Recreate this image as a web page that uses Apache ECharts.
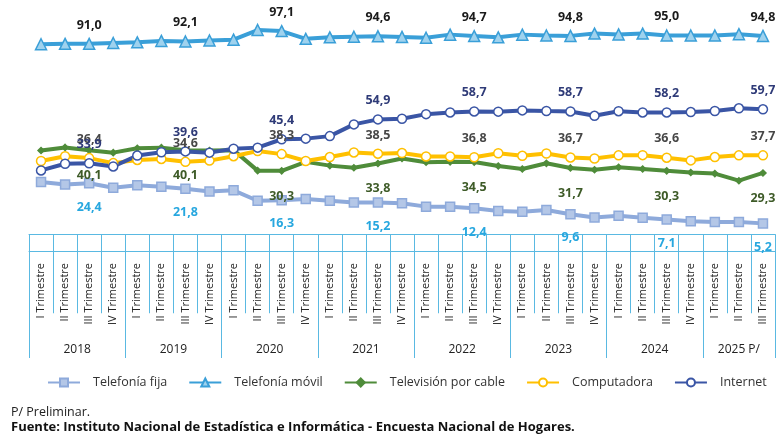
<!DOCTYPE html>
<html>
<head>
<meta charset="utf-8">
<script src="https://cdn.jsdelivr.net/npm/echarts@6/dist/echarts.min.js"></script>
<style>
  html, body { margin: 0; padding: 0; background: #fff; }
  #chart { width: 779px; height: 434px; }
</style>
</head>
<body>
<div id="chart"></div>
<script>
var years = ['2018', '2019', '2020', '2021', '2022', '2023', '2024', '2025 P/'];
var quartersPerYear = [4, 4, 4, 4, 4, 4, 4, 3];
var quarterNames = ['I Trimestre', 'II Trimestre', 'III Trimestre', 'IV Trimestre'];

var telefoniaFija = [25.0, 23.8, 24.4, 22.2, 23.4, 22.7, 21.8, 20.4, 21.0, 16.0, 16.3, 16.8, 16.0, 15.2, 15.2, 14.8,
  13.2, 13.2, 12.4, 11.1, 10.8, 11.6, 9.6, 8.0, 8.8, 7.9, 7.1, 6.2, 5.8, 5.9, 5.2];
var telefoniaMovil = [90.8, 91.0, 91.0, 91.4, 91.7, 92.4, 92.1, 92.6, 93.0, 97.6, 97.1, 93.4, 94.1, 94.4, 94.6, 94.3,
  93.9, 95.4, 94.7, 94.1, 95.4, 95.0, 94.8, 95.9, 95.5, 95.9, 95.0, 95.0, 95.0, 95.6, 94.8];
var tvCable = [40.0, 41.5, 40.1, 39.0, 41.1, 41.4, 40.1, 40.0, 40.2, 30.4, 30.3, 34.6, 32.8, 31.8, 33.8, 36.2,
  34.4, 34.6, 34.5, 32.6, 31.2, 33.9, 31.7, 30.8, 32.0, 31.2, 30.3, 29.5, 29.0, 25.6, 29.3];
var computadora = [35.0, 37.3, 36.4, 34.0, 35.5, 36.0, 34.6, 35.2, 37.3, 39.8, 38.3, 35.0, 36.9, 39.1, 38.5, 38.8,
  37.2, 37.2, 36.8, 38.7, 37.5, 38.6, 36.7, 36.2, 37.7, 37.8, 36.6, 35.3, 36.9, 37.7, 37.7];
var internet = [30.5, 33.7, 33.9, 32.4, 37.6, 39.2, 39.6, 39.0, 40.9, 41.4, 45.4, 45.7, 46.9, 52.5, 54.9, 55.2,
  57.4, 58.2, 58.7, 58.6, 59.2, 58.9, 58.7, 56.6, 58.8, 58.2, 58.2, 58.4, 58.9, 60.2, 59.7];

// quarter categories and the half-step year axis
var categories = [];
var yearSlots = [];
var yearEdges = [0];
quartersPerYear.forEach(function (n, y) {
  for (var q = 0; q < n; q++) categories.push(quarterNames[q]);
  yearEdges.push(yearEdges[yearEdges.length - 1] + n * 2);
});
for (var i = 0; i <= categories.length * 2; i++) yearSlots.push('');
years.forEach(function (y, k) {
  yearSlots[(yearEdges[k] + yearEdges[k + 1]) / 2] = y;
});

var font = 'Open Sans';
function lbl(i) { return i % 4 === 2; }
function fmt(p) { return lbl(p.dataIndex) ? p.value.toFixed(1).replace('.', ',') : ''; }

function mkSeries(name, data, color, symbol, fill, size, labelColor, pos, dist) {
  return {
    name: name,
    type: 'line',
    data: data,
    symbol: symbol,
    symbolSize: size,
    showAllSymbol: true,
    lineStyle: { color: color, width: 4 },
    itemStyle: { color: fill, borderColor: color, borderWidth: 1.5 },
    label: {
      show: true, position: pos, distance: dist, formatter: fmt,
      color: labelColor, fontFamily: font, fontWeight: 'bold', fontSize: 12.5
    },
    labelLayout: { hideOverlap: false },
    emphasis: { disabled: true }
  };
}

var chart = echarts.init(document.getElementById('chart'));
var option = {
  animation: false,
  textStyle: { fontFamily: font },
  grid: { left: 29, right: 4, top: 25, bottom: 183 },
  legend: {
    top: 371, left: 42,
    itemWidth: 32, itemHeight: 10, itemGap: 21,
    textStyle: { fontFamily: font, fontSize: 12.5, color: '#333', padding: [0, 0, 0, 8] },
    data: ['Telefonía fija', 'Telefonía móvil', 'Televisión por cable', 'Computadora', 'Internet']
  },
  title: [
    { text: 'P/ Preliminar.', left: 6, top: 401, textStyle: { fontFamily: font, fontSize: 12.5, fontWeight: 'normal', color: '#222' } },
    { text: 'Fuente: Instituto Nacional de Estadística e Informática - Encuesta Nacional de Hogares.', left: 6, top: 416,
      textStyle: { fontFamily: font, fontSize: 13, fontWeight: 'bold', color: '#111' } }
  ],
  xAxis: [
    {
      type: 'category', data: categories, position: 'bottom',
      axisLine: { lineStyle: { color: '#5ab9e2', width: 1 } },
      axisTick: { show: true, interval: 0, length: 79, lineStyle: { color: '#5ab9e2' } },
      axisLabel: { interval: 0, rotate: 90, margin: 12, fontSize: 11, color: '#222', fontFamily: font }
    },
    {
      type: 'category', data: yearSlots, position: 'bottom', boundaryGap: false,
      axisLine: { lineStyle: { color: '#5ab9e2', width: 1 } },
      axisTick: {
        show: true, length: 107, lineStyle: { color: '#5ab9e2' },
        interval: function (idx) { return yearEdges.indexOf(idx) >= 0; }
      },
      axisLabel: { interval: 0, margin: 93, fontSize: 12, color: '#222', fontFamily: font }
    }
  ],
  yAxis: { type: 'value', min: -8, max: 100, show: false },
  series: [
    mkSeries('Telefonía fija', telefoniaFija, '#8eaadb', 'rect', '#b4c7e7', 9, '#27a7df', 'bottom', 12),
    mkSeries('Telefonía móvil', telefoniaMovil, '#3a9fd8', 'triangle', '#9fd2ee', 11, '#1a1a1a', 'top', 6),
    mkSeries('Televisión por cable', tvCable, '#4f8c3a', 'diamond', '#4f8c3a', 6, '#3e5b28', 'bottom', 15),
    mkSeries('Computadora', computadora, '#ffc000', 'circle', '#ffffff', 9, '#474747', 'top', 7),
    mkSeries('Internet', internet, '#3a55a5', 'circle', '#ffffff', 9, '#2f3b78', 'top', 7)
  ]
};
chart.setOption(option);
</script>
</body>
</html>
